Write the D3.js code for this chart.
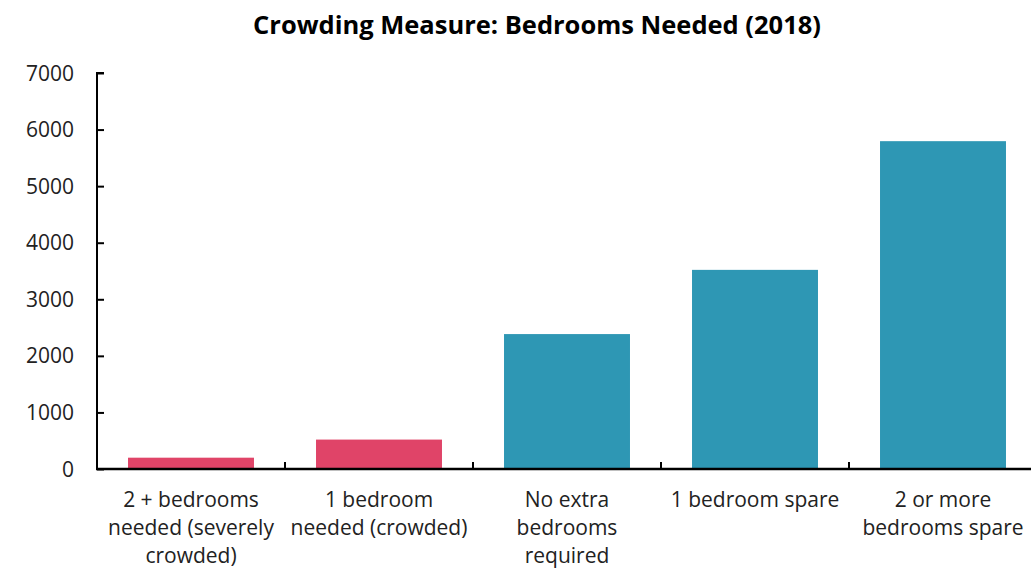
<!DOCTYPE html>
<html>
<head>
<meta charset="utf-8">
<script src="https://cdn.jsdelivr.net/npm/d3@7"></script>
<style>
  body { margin: 0; background: #fff; }
  svg { font-family: "Open Sans", sans-serif; display: block; }
</style>
</head>
<body>
<svg id="chart" width="1031" height="568"></svg>
<script>
var categories = ["2 + bedrooms needed (severely crowded)", "1 bedroom needed (crowded)", "No extra bedrooms required", "1 bedroom spare", "2 or more bedrooms spare"]
var categoryLines = [["2 + bedrooms", "needed (severely", "crowded)"], ["1 bedroom", "needed (crowded)"], ["No extra", "bedrooms", "required"], ["1 bedroom spare"], ["2 or more", "bedrooms spare"]]
var values = [200, 520, 2385, 3520, 5795]
var colors = ["#e04468", "#e04468", "#2e97b4", "#2e97b4", "#2e97b4"]
var yTicks = [0, 1000, 2000, 3000, 4000, 5000, 6000, 7000]
var title = "Crowding Measure: Bedrooms Needed (2018)"

var svg = d3.select("#chart")
var plotLeft = 97, plotRight = 1037, plotTop = 73, plotBottom = 469

var x = d3.scaleBand()
  .domain(categories)
  .range([plotLeft, plotRight])
  .paddingInner(0.33)
  .paddingOuter(0.165)

var y = d3.scaleLinear()
  .domain([0, 7000])
  .range([plotBottom, plotTop])

svg.append("text")
  .attr("x", 537)
  .attr("y", 34)
  .attr("text-anchor", "middle")
  .attr("font-size", 25.5)
  .attr("font-weight", "bold")
  .text(title)

svg.append("g")
  .selectAll("rect")
  .data(values)
  .enter().append("rect")
    .attr("x", (d, i) => x(categories[i]))
    .attr("y", d => y(d))
    .attr("width", x.bandwidth())
    .attr("height", d => y(0) - y(d))
    .attr("fill", (d, i) => colors[i])

// y axis, ticks point into the plot
var yAxis = svg.append("g")
  .attr("transform", "translate(" + plotLeft + ",0)")
  .call(d3.axisRight(y).tickValues(yTicks).tickSize(7).tickFormat(""))
yAxis.select(".domain").attr("stroke-width", 2).attr("d", "M7," + plotTop + "H0V" + plotBottom)
yAxis.selectAll(".tick line").attr("stroke-width", 2)

svg.append("g")
  .selectAll("text")
  .data(yTicks)
  .enter().append("text")
    .attr("x", 74)
    .attr("y", d => y(d))
    .attr("dy", "0.36em")
    .attr("text-anchor", "end")
    .attr("font-size", 21)
    .attr("fill", "#222")
    .text(d => d)

// x axis
var step = x.step()
var bounds = d3.range(1, categories.length).map(i => plotLeft + step * i)
var xg = svg.append("g")
xg.append("line")
  .attr("x1", plotLeft - 1).attr("x2", plotRight)
  .attr("y1", plotBottom).attr("y2", plotBottom)
  .attr("stroke", "#000").attr("stroke-width", 2.5)
xg.selectAll("line.tk")
  .data(bounds)
  .enter().append("line")
    .attr("class", "tk")
    .attr("x1", d => d).attr("x2", d => d)
    .attr("y1", plotBottom).attr("y2", plotBottom - 7)
    .attr("stroke", "#000").attr("stroke-width", 2)

// category labels, one tspan per line
svg.append("g")
  .selectAll("text")
  .data(categories)
  .enter().append("text")
    .attr("y", 507)
    .attr("text-anchor", "middle")
    .attr("font-size", 21)
    .attr("fill", "#222")
    .each(function(c, i) {
      var cx = x(c) + x.bandwidth() / 2
      d3.select(this).selectAll("tspan")
        .data(categoryLines[i])
        .enter().append("tspan")
          .attr("x", cx)
          .attr("dy", (d, j) => j ? 28 : 0)
          .text(d => d)
    })
</script>
</body>
</html>
